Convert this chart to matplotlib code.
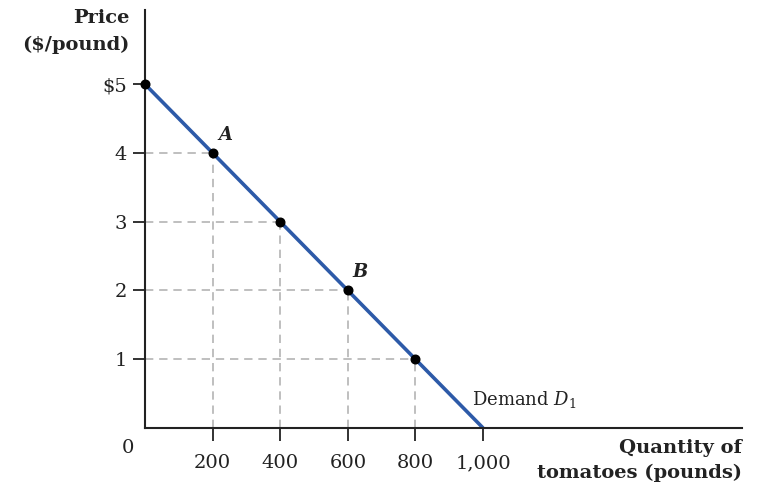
#!/usr/bin/env python
"""
Demand curve for tomatoes
"""

import matplotlib

matplotlib.use("Agg")
import matplotlib.pyplot as plt

quantity = [0, 200, 400, 600, 800, 1000]
price = [5, 4, 3, 2, 1, 0]
dot_quantity = [0, 200, 400, 600, 800]
dot_price = [5, 4, 3, 2, 1]
point_labels = {"A": (200, 4), "B": (600, 2)}
x_ticks = [200, 400, 600, 800, 1000]
x_tick_labels = ["200", "400", "600", "800", "1,000"]
y_ticks = [1, 2, 3, 4, 5]
y_tick_labels = ["1", "2", "3", "4", "$5"]


def main():
    """
    Driver code
    """
    plt.rcParams["font.family"] = "DejaVu Serif"
    plt.rcParams["mathtext.fontset"] = "dejavuserif"
    fig = plt.figure(figsize=(7.58, 4.95), dpi=100)
    ax = fig.add_axes([0.1913, 0.1354, 0.7876, 0.8444])

    # guide lines
    for q, p in zip(dot_quantity, dot_price):
        if q == 0:
            continue
        ax.plot([0, q], [p, p], color="#b4b4b4", lw=1.2, ls=(0, (5, 3.5)), zorder=1)
        ax.plot([q, q], [0, p], color="#b4b4b4", lw=1.2, ls=(0, (5, 3.5)), zorder=1)

    ax.plot(quantity, price, color="#2d5aa8", lw=2.6, zorder=2, solid_capstyle="butt")
    ax.plot(dot_quantity, dot_price, "o", color="black", ms=6.2, zorder=3, clip_on=False)

    for name, (q, p) in point_labels.items():
        ax.annotate(name, (q, p), xytext=(9, 13), textcoords="offset points",
                    ha="center", va="center", fontsize=13, style="italic",
                    fontweight="bold", color="#222222")

    ax.text(968, 0.42, "Demand $D_1$", fontsize=13, color="#222222",
            ha="left", va="center")

    ax.set_xlim(0, 1766)
    ax.set_ylim(0, 6.08)
    ax.spines["top"].set_visible(False)
    ax.spines["right"].set_visible(False)
    for side in ("left", "bottom"):
        ax.spines[side].set_linewidth(1.5)
        ax.spines[side].set_color("#222222")

    ax.set_xticks(x_ticks)
    ax.set_xticklabels(x_tick_labels, fontsize=14, color="#222222")
    ax.set_yticks(y_ticks)
    ax.set_yticklabels(y_tick_labels, fontsize=14, color="#222222")
    ax.tick_params(axis="both", direction="out", length=9, width=1.3, color="#222222")
    ax.tick_params(axis="x", pad=10)
    ax.tick_params(axis="y", pad=4)

    fig.text(128 / 758, 1 - 448 / 495, "0", fontsize=14, color="#222222",
             ha="center", va="center")
    fig.text(129 / 758, 1 - 18 / 495, "Price", fontsize=14, fontweight="bold",
             color="#222222", ha="right", va="center")
    fig.text(129 / 758, 1 - 45 / 495, "($/pound)", fontsize=14, fontweight="bold",
             color="#222222", ha="right", va="center")
    fig.text(742 / 758, 1 - 448 / 495, "Quantity of", fontsize=14, fontweight="bold",
             color="#222222", ha="right", va="center")
    fig.text(742 / 758, 1 - 473 / 495, "tomatoes (pounds)", fontsize=14,
             fontweight="bold", color="#222222", ha="right", va="center")

    fig.savefig("out.png", dpi=100)


if __name__ == "__main__":
    main()
